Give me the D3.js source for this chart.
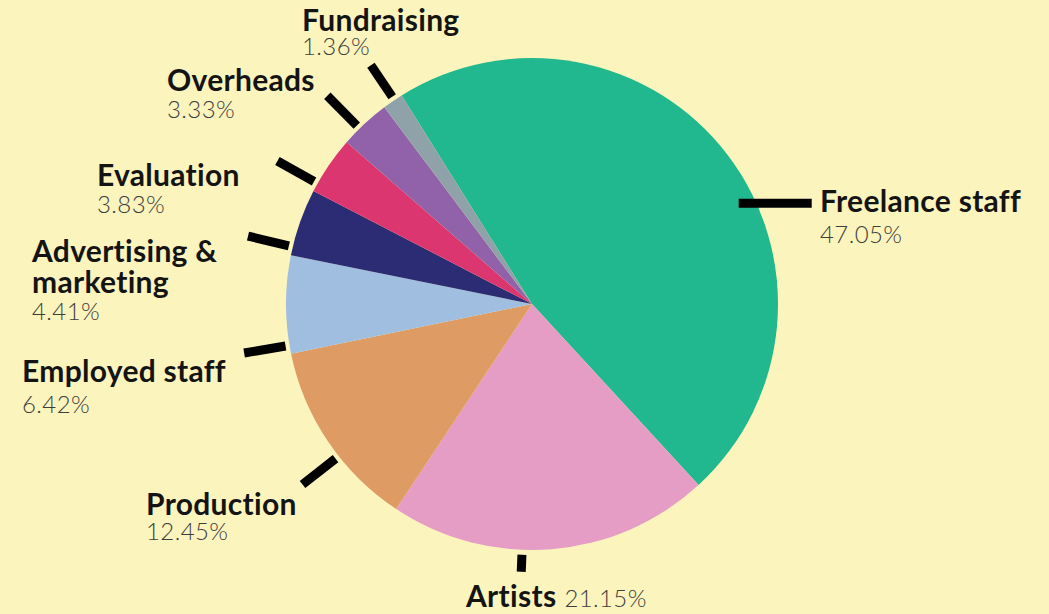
<!DOCTYPE html>
<html>
<head>
<meta charset="utf-8">
<script src="https://cdn.jsdelivr.net/npm/d3@7"></script>
<style>
  html, body { margin: 0; padding: 0; background: #fcf4bd; }
  svg { display: block; }
  .name { font-family: Lato, "Open Sans", sans-serif; font-weight: 700; font-size: 30px; letter-spacing: 0.3px; fill: #141414; }
  .pct { font-family: Lato, "Open Sans", sans-serif; font-weight: 300; font-size: 24px; letter-spacing: 0.4px; fill: #3e3e3e; }
</style>
</head>
<body>
<div id="chart"></div>
<script>
// data, clockwise from the top
var categories = ["Freelance staff", "Artists", "Production", "Employed staff",
                  "Advertising & marketing", "Evaluation", "Overheads", "Fundraising"];
var shares = [47.05, 21.15, 12.45, 6.42, 4.41, 3.83, 3.33, 1.36];
var colours = ["#21b78f", "#e59dc6", "#de9b63", "#a0bfe0", "#2b2c73", "#dc3670", "#9161a9", "#8fa1a9"];

var width = 1049,
    height = 614;
var cx = 532, cy = 304, radius = 246;
var rad = Math.PI / 180;
var startDeg = -32;

// where each label sits and which way its tick points (same order as categories)
var labelPos = [
  {x: 820, y: 212, lines: ["Freelance staff"], pctDy: 31, tickDeg: 64, tickIn: -16, tickLen: 73, tickDir: 90},
  {x: 466, y: 607, lines: ["Artists"], inline: true, tickDeg: 182.3, tickIn: 5, tickLen: 17},
  {x: 146, y: 515, lines: ["Production"], pctDy: 25, tickDeg: 231.8},
  {x: 22, y: 382, lines: ["Employed staff"], pctDy: 31, tickDeg: 256.7},
  {x: 32, y: 262, lines: ["Advertising &", "marketing"], lineH: 31, pctDy: 27, tickDeg: 278.3},
  {x: 97, y: 186, lines: ["Evaluation"], pctDy: 27, tickDeg: 296.6},
  {x: 167, y: 91, lines: ["Overheads"], pctDy: 27, tickDeg: 315.5},
  {x: 302, y: 31, lines: ["Fundraising"], pctDy: 24, tickDeg: 331.1, tickLen: 38}
];

var fmt = function(v) { return d3.format(".2f")(v) + "%"; };

var svg = d3.select("#chart").append("svg")
  .attr("width", width)
  .attr("height", height);

svg.append("rect")
  .attr("width", width)
  .attr("height", height)
  .attr("fill", "#fcf4bd");

var pie = d3.pie()
  .sort(null)
  .value(function(d) { return d; })
  .startAngle(startDeg * rad)
  .endAngle(startDeg * rad + 2 * Math.PI);

var arc = d3.arc()
  .innerRadius(0)
  .outerRadius(radius);

var arcs = pie(shares);

var g = svg.append("g")
  .attr("transform", "translate(" + cx + "," + cy + ")");

g.selectAll("path")
  .data(arcs)
  .enter().append("path")
    .attr("d", arc)
    .attr("fill", function(d, i) { return colours[i]; });

// ticks: keep each one inside its own slice
var ticks = arcs.map(function(a, i) {
  var L = labelPos[i];
  var pad = Math.min(2 * rad, (a.endAngle - a.startAngle) / 2);
  var ang = Math.max(a.startAngle + pad, Math.min(a.endAngle - pad, L.tickDeg * rad));
  var r0 = radius + (L.tickIn != null ? L.tickIn : 4);
  var x0 = r0 * Math.sin(ang), y0 = -r0 * Math.cos(ang);
  var dir = L.tickDir != null ? L.tickDir * rad : ang;
  var len = L.tickLen || 42;
  return {x0: x0, y0: y0, x1: x0 + len * Math.sin(dir), y1: y0 - len * Math.cos(dir)};
});

g.selectAll("line.tick")
  .data(ticks)
  .enter().append("line")
    .attr("class", "tick")
    .attr("x1", function(d) { return d.x0; })
    .attr("y1", function(d) { return d.y0; })
    .attr("x2", function(d) { return d.x1; })
    .attr("y2", function(d) { return d.y1; })
    .attr("stroke", "#000")
    .attr("stroke-width", 9);

// labels
var labels = svg.append("g").attr("class", "labels");

categories.forEach(function(c, i) {
  var L = labelPos[i];
  if (L.inline) {
    var t = labels.append("text")
      .attr("x", L.x)
      .attr("y", L.y);
    t.append("tspan").attr("class", "name").text(L.lines[0]);
    t.append("tspan").attr("class", "pct").attr("dx", 8).text(fmt(shares[i]));
    return;
  }
  L.lines.forEach(function(line, j) {
    labels.append("text")
      .attr("class", "name")
      .attr("x", L.x)
      .attr("y", L.y + j * (L.lineH || 0))
      .text(line);
  });
  labels.append("text")
    .attr("class", "pct")
    .attr("x", L.x)
    .attr("y", L.y + (L.lines.length - 1) * (L.lineH || 0) + L.pctDy)
    .text(fmt(shares[i]));
});
</script>
</body>
</html>
